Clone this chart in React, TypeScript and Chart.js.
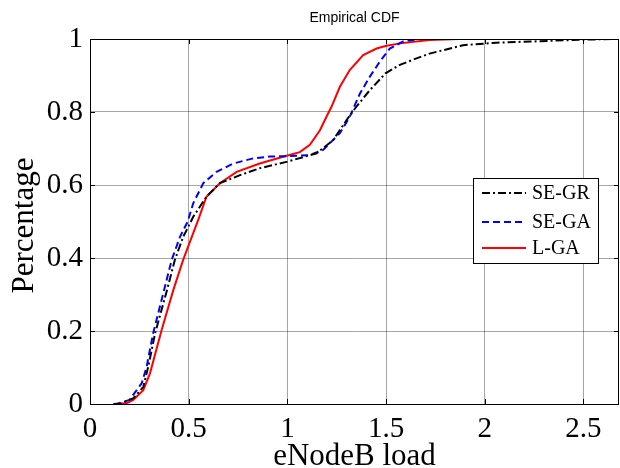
import React, { useEffect, useRef } from "react";
import { Chart, registerables } from "chart.js";

Chart.register(...registerables);

const seriesNames = ["SE-GR", "SE-GA", "L-GA"];

const segrX = [0.12, 0.15, 0.22, 0.27, 0.295, 0.33, 0.39, 0.43, 0.472, 0.515, 0.523, 0.59, 0.658, 0.76, 0.86, 1.0, 1.148, 1.232, 1.3, 1.35, 1.418, 1.497, 1.57, 1.654, 1.72, 1.89, 2.06, 2.23, 2.48, 2.65, 2.68];
const segrY = [0, 0, 0.016, 0.047, 0.102, 0.194, 0.312, 0.395, 0.458, 0.504, 0.513, 0.568, 0.605, 0.627, 0.646, 0.664, 0.687, 0.723, 0.778, 0.815, 0.86, 0.906, 0.929, 0.947, 0.96, 0.983, 0.99, 0.993, 0.998, 1.0, 1.0];

const segaX = [0.12, 0.135, 0.2, 0.262, 0.287, 0.32, 0.371, 0.414, 0.456, 0.495, 0.523, 0.574, 0.641, 0.726, 0.827, 0.911, 1.0, 1.114, 1.181, 1.266, 1.316, 1.367, 1.418, 1.468, 1.519, 1.586, 1.67, 2.68];
const segaY = [0, 0, 0.011, 0.057, 0.102, 0.194, 0.303, 0.395, 0.458, 0.5, 0.55, 0.605, 0.636, 0.659, 0.673, 0.678, 0.679, 0.682, 0.696, 0.742, 0.787, 0.85, 0.897, 0.938, 0.974, 0.993, 1.0, 1.0];

const lgaX = [0.118, 0.186, 0.219, 0.27, 0.304, 0.363, 0.422, 0.472, 0.523, 0.548, 0.59, 0.658, 0.743, 0.86, 0.996, 1.063, 1.114, 1.165, 1.198, 1.224, 1.266, 1.316, 1.384, 1.452, 1.497, 1.57, 1.72, 1.87, 2.68];
const lgaY = [0, 0.002, 0.011, 0.038, 0.084, 0.203, 0.312, 0.395, 0.468, 0.504, 0.568, 0.605, 0.636, 0.659, 0.68, 0.69, 0.71, 0.75, 0.787, 0.815, 0.869, 0.915, 0.956, 0.974, 0.981, 0.988, 0.997, 1.0, 1.0];

const xTickValues = [0, 0.5, 1, 1.5, 2, 2.5];
const yTickValues = [0, 0.2, 0.4, 0.6, 0.8, 1];

const titleText = "Empirical CDF";
const xLabel = "eNodeB load";
const yLabel = "Percentage";

const colors = ["#000000", "#0000ff", "#ff0000"];
const dashes = [[8, 3, 2, 3], [7, 4], []];

const toPts = (xs: number[], ys: number[]) => xs.map((x, i) => ({ x, y: ys[i] }));

const fmt = (v: number) => String(Number(v.toFixed(2)));

const decorPlugin = {
  id: "decor",
  afterDraw(chart: any) {
    const { ctx, chartArea } = chart;
    const { left, right, top, bottom } = chartArea;
    const xs = chart.scales.x;
    const ys = chart.scales.y;
    ctx.save();
    // box
    ctx.strokeStyle = "#000";
    ctx.lineWidth = 1;
    ctx.setLineDash([]);
    ctx.strokeRect(Math.round(left) + 0.5, Math.round(top) + 0.5, Math.round(right - left) - 1, Math.round(bottom - top));
    // inward ticks
    const tl = 5;
    ctx.beginPath();
    xTickValues.forEach((v) => {
      const px = Math.round(xs.getPixelForValue(v)) + 0.5;
      ctx.moveTo(px, bottom);
      ctx.lineTo(px, bottom - tl);
      ctx.moveTo(px, top);
      ctx.lineTo(px, top + tl);
    });
    yTickValues.forEach((v) => {
      const py = Math.round(ys.getPixelForValue(v)) + 0.5;
      ctx.moveTo(left, py);
      ctx.lineTo(left + tl, py);
      ctx.moveTo(right, py);
      ctx.lineTo(right - tl, py);
    });
    ctx.stroke();

    // title
    ctx.fillStyle = "#000";
    ctx.font = "14px 'Liberation Sans', Arial, sans-serif";
    ctx.textAlign = "center";
    ctx.textBaseline = "alphabetic";
    ctx.fillText(titleText, (left + right) / 2, 22);

    // axis titles
    ctx.font = "31px 'Liberation Serif', 'Times New Roman', serif";
    ctx.fillText(xLabel, (left + right) / 2, 465);
    ctx.save();
    ctx.translate(33, (top + bottom) / 2 + 4);
    ctx.rotate(-Math.PI / 2);
    ctx.fillText(yLabel, 0, 0);
    ctx.restore();

    // legend
    const lx = 473, ly = 178, lw = 125, lh = 85;
    ctx.fillStyle = "#fff";
    ctx.fillRect(lx, ly, lw, lh);
    ctx.strokeStyle = "#000";
    ctx.lineWidth = 1;
    ctx.strokeRect(lx + 0.5, ly + 0.5, lw, lh);
    const rows = [193, 222, 248];
    ctx.font = "20px 'Liberation Serif', 'Times New Roman', serif";
    ctx.textAlign = "left";
    ctx.textBaseline = "middle";
    seriesNames.forEach((name, i) => {
      ctx.strokeStyle = colors[i];
      ctx.lineWidth = 2;
      ctx.setLineDash(dashes[i]);
      ctx.beginPath();
      ctx.moveTo(482, rows[i]);
      ctx.lineTo(526, rows[i]);
      ctx.stroke();
      ctx.setLineDash([]);
      ctx.fillStyle = "#000";
      ctx.fillText(name, 532, rows[i] + 1);
    });
    ctx.restore();
  },
};

export default function App() {
  const ref = useRef<HTMLCanvasElement>(null);
  useEffect(() => {
    document.body.style.margin = "0";
    const canvas = ref.current!;
    const sets = [
      [segrX, segrY],
      [segaX, segaY],
      [lgaX, lgaY],
    ];
    const chart = new Chart(canvas, {
      type: "line",
      data: {
        datasets: sets.map(([xs, ys], i) => ({
          label: seriesNames[i],
          data: toPts(xs, ys),
          borderColor: colors[i],
          borderWidth: 2,
          borderDash: dashes[i],
          pointRadius: 0,
          tension: 0,
          fill: false,
        })),
      },
      options: {
        animation: false,
        responsive: false,
        devicePixelRatio: 1,
        layout: { padding: { top: 39, right: 1, left: 0, bottom: 0 } },
        plugins: { legend: { display: false }, title: { display: false }, tooltip: { enabled: false } },
        scales: {
          x: {
            type: "linear",
            min: 0,
            max: 2.68,
            afterFit: (s: any) => { s.height = 64; },
            afterBuildTicks: (s: any) => { s.ticks = xTickValues.map((v) => ({ value: v })); },
            border: { display: false },
            grid: { color: "rgba(0,0,0,0.35)", lineWidth: 1, drawTicks: false },
            ticks: {
              includeBounds: false,
              padding: 8,
              color: "#000",
              font: { family: "'Liberation Serif', 'Times New Roman', serif", size: 29 },
              callback: (v: any) => fmt(Number(v)),
              maxRotation: 0,
              autoSkip: false,
            },
          },
          y: {
            type: "linear",
            min: 0,
            max: 1,
            afterFit: (s: any) => { s.width = 90; },
            afterBuildTicks: (s: any) => { s.ticks = yTickValues.map((v) => ({ value: v })); },
            border: { display: false },
            grid: { color: "rgba(0,0,0,0.35)", lineWidth: 1, drawTicks: false },
            ticks: {
              padding: 7,
              color: "#000",
              font: { family: "'Liberation Serif', 'Times New Roman', serif", size: 29 },
              callback: (v: any) => fmt(Number(v)),
              autoSkip: false,
            },
          },
        },
      },
      plugins: [decorPlugin],
    });
    return () => chart.destroy();
  }, []);
  return (
    <div style={{ position: "absolute", left: 0, top: 0, width: 620, height: 468, background: "#fff" }}>
      <canvas ref={ref} width={620} height={468} style={{ display: "block" }} />
    </div>
  );
}
